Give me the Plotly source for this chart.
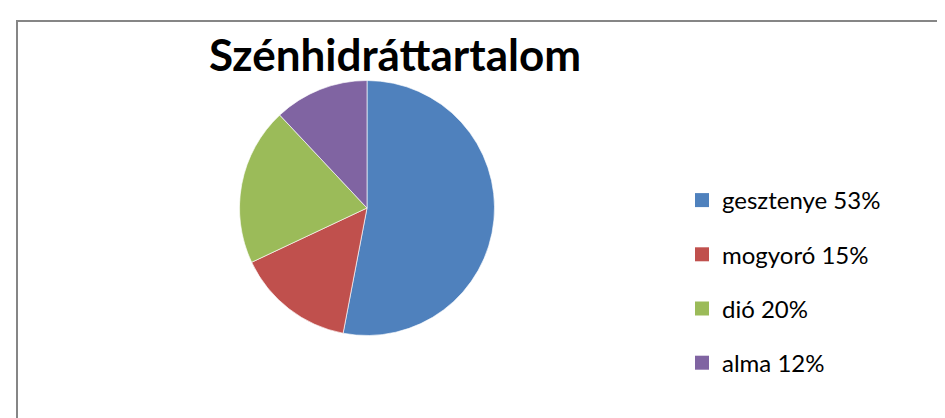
import plotly.graph_objects as go

labels = ["gesztenye", "mogyoró", "dió", "alma"]
values = [53, 15, 20, 12]
legend_texts = ["gesztenye 53%", "mogyoró 15%", "dió 20%", "alma 12%"]
colors = ["#4F81BD", "#C0504D", "#9BBB59", "#8064A2"]
title_text = "Szénhidráttartalom"

W, H = 945, 418
cx, cy, r = 359.0, 200.0, 127.5

fig = go.Figure()
fig.add_trace(go.Pie(
    labels=labels, values=values, sort=False, direction="clockwise", rotation=0,
    marker=dict(colors=colors, line=dict(color="rgba(255,255,255,0.8)", width=0.8)),
    textinfo="none", hoverinfo="label+percent", showlegend=False,
    domain=dict(x=[(cx - r) / W, (cx + r) / W], y=[(H - cy - r) / H, (H - cy + r) / H]),
))

for i, (t, c) in enumerate(zip(legend_texts, colors)):
    fig.add_trace(go.Scatter(
        x=[None], y=[None], mode="markers", name=t, legendgroup=f"g{i}",
        marker=dict(symbol="square", size=14, color=c), showlegend=True,
    ))

fig.update_layout(
    width=W, height=H, margin=dict(l=0, r=0, t=0, b=0, autoexpand=False),
    paper_bgcolor="white", plot_bgcolor="white",
    xaxis=dict(visible=False), yaxis=dict(visible=False),
    title=dict(text=f"<b>{title_text}</b>", x=387 / W, xanchor="center",
               y=1 - 48 / H, yanchor="middle",
               font=dict(family="Lato", size=44, color="black")),
    legend=dict(x=674 / W, xanchor="left", y=1 - 170 / H, yanchor="top",
                font=dict(family="Lato", size=24, color="black"),
                tracegroupgap=20, itemsizing="trace", bgcolor="rgba(0,0,0,0)"),
    shapes=[dict(type="path", xref="paper", yref="paper",
                 path=f"M {9/W},0 L {9/W},{1-13/H} L 1,{1-13/H}",
                 line=dict(color="#868686", width=2))],
)

fig.write_html("out.html")
